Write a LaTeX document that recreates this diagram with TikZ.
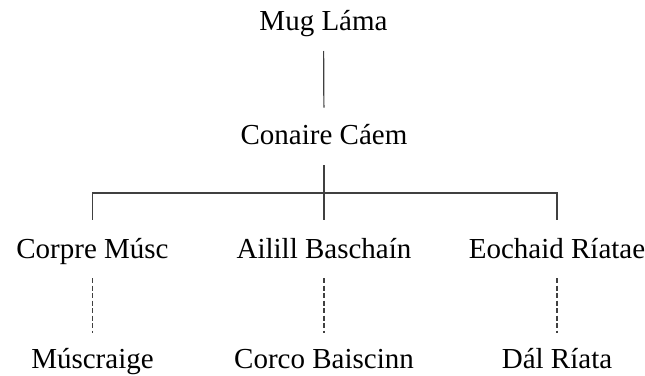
\documentclass[tikz,border=0pt]{standalone}
\usepackage{fontspec}
\setmainfont{Liberation Serif}
\begin{document}
\begin{tikzpicture}[x=1pt,y=-1pt,
  person/.style={font=\fontsize{29}{29}\selectfont, inner sep=0pt,
    text height=20pt, text depth=0pt, anchor=south},
  link/.style={draw=black!75, line width=1.2pt},
  descent/.style={link, dash pattern=on 5pt off 2.5pt}]
\useasboundingbox (0,0) rectangle (645,375);

% generations, placed by baseline
\node[person] (mug)    at (323.5,31)  {Mug Láma};
\node[person] (conaire) at (324,145)  {Conaire Cáem};
\node[person] (corpre) at (92.5,259)  {Corpre Músc};
\node[person] (ailill) at (324,259)   {Ailill Baschaín};
\node[person] (eochaid) at (557,259)  {Eochaid Ríatae};
\node[person] (musc)   at (92.5,368.5)  {Múscraige};
\node[person] (corco)  at (324,368.5)   {Corco Baiscinn};
\node[person] (dal)    at (557,368.5)   {Dál Ríata};

\coordinate (fork) at (324,193);

% descent lines
\draw[link, shorten <=20pt, shorten >=17pt] (mug.south) -- (conaire.north);
\draw[link, shorten <=20pt] (conaire.south) -- (fork);
\draw[link, shorten >=19pt] (fork) -| (corpre.north);
\draw[link, shorten >=19pt] (fork) -- (ailill.north);
\draw[link, shorten >=19pt] (fork) -| (eochaid.north);

% peoples descended from each son
\draw[descent, shorten <=19pt, shorten >=15.5pt] (corpre.south) -- (musc.north);
\draw[descent, shorten <=19pt, shorten >=15.5pt] (ailill.south) -- (corco.north);
\draw[descent, shorten <=19pt, shorten >=15.5pt] (eochaid.south) -- (dal.north);
\end{tikzpicture}
\end{document}
